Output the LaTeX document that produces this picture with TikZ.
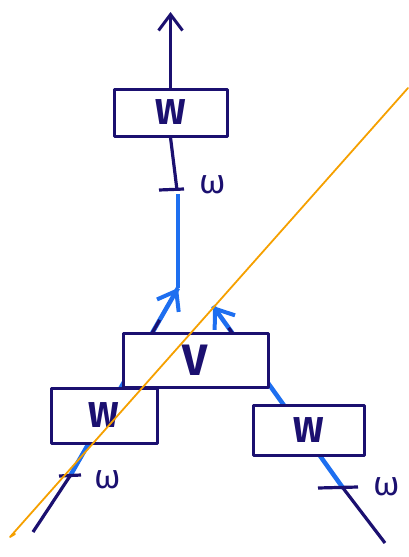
\documentclass[tikz,border=0pt]{standalone}
\usepackage{fontspec}
\setmainfont{Fira Sans}
\usetikzlibrary{arrows.meta,backgrounds,calc}
\definecolor{ink}{HTML}{1B1070}
\definecolor{hl}{HTML}{1E6FF0}
\definecolor{orng}{HTML}{F5A000}
\begin{document}
\begin{tikzpicture}[x=1pt,y=-1pt, line cap=round, line join=round,
  box/.style={draw=ink, line width=3pt, fill=white, inner sep=0pt, text=ink,
    font=\bfseries\fontsize{36}{36}\selectfont},
  inkline/.style={draw=ink, line width=3.2pt},
  blueline/.style={draw=hl, line width=4.5pt},
  barb/.style={-{Straight Barb[length=16pt,width=24pt,line width=3pt]}},
  bluebarb/.style={-{Straight Barb[length=17pt,width=25pt,line width=4pt]}},
  lbl/.style={text=ink, font=\fontsize{34}{34}\selectfont}]
\useasboundingbox (0,0) rectangle (409,557);
% boxes
\node[box, minimum width=113pt, minimum height=47pt] (wt) at (170.5,112.5) {W};
\node[box, minimum width=145pt, minimum height=54pt,
  font=\bfseries\fontsize{44}{44}\selectfont] (v) at (195.5,360) {V};
\node[box, minimum width=106pt, minimum height=55pt] (wl) at (104,415.5) {W};
\node[box, minimum width=111pt, minimum height=50pt] (wr) at (308.5,430) {W};
% coordinates
\coordinate (top) at (170.5,12);
\coordinate (mt) at (177,190);
\coordinate (mtl) at (159,190);
\coordinate (mtr) at (184,189);
\coordinate (mb) at (178,194);
\coordinate (jl) at (178,288);
\coordinate (jr) at (213,306);
\coordinate (ls) at (33,532);
\coordinate (lt) at (70,476);
\coordinate (lta) at (59,476);
\coordinate (ltb) at (81,475);
\coordinate (rs) at (385,543);
\coordinate (rt) at (343,488);
\coordinate (rta) at (318,488);
\coordinate (rtb) at (358,487);
% labels
\node[lbl] (o1) at (213,185) {ω};
\node[lbl] (o2) at (108,480) {ω};
\node[lbl] (o3) at (387,487) {ω};
\begin{pgfonlayer}{background}
  \draw[blueline] (mb) -- (jl);
  \draw[blueline] (lt) -- (jl);
  \draw[blueline] (rt) -- (jr);
  \draw[inkline] ($(lt)!0.76!(jl)$) -- ($(lt)!0.83!(jl)$);
  \draw[inkline] ($(rt)!0.84!(jr)$) -- ($(rt)!0.88!(jr)$);
  \draw[draw=hl, bluebarb] ($(lt)!0.9!(jl)$) -- (jl);
  \draw[draw=hl, bluebarb] ($(rt)!0.9!(jr)$) -- (jr);
  \draw[inkline] (ls) -- (lt);
  \draw[inkline] (rs) -- (rt);
  \draw[inkline, barb] (wt.north) -- (top);
  \draw[inkline] (wt.south) -- (mt);
  \draw[inkline] (mtl) -- (mtr);
  \draw[inkline] (lta) -- (ltb);
  \draw[inkline] (rta) -- (rtb);
\end{pgfonlayer}
\draw[orng, line width=1.8pt] (408,88) -- (10,537) -- (15,534);
\end{tikzpicture}
\end{document}
